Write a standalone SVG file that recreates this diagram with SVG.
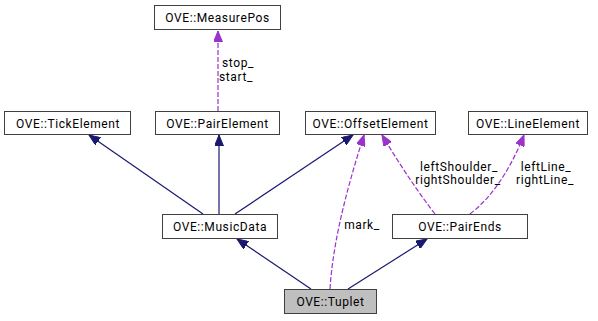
<svg xmlns="http://www.w3.org/2000/svg" width="598" height="321" viewBox="0 0 598 321">
  <style>
    .box { fill: #ffffff; stroke: #404040; stroke-width: 1; }
    .cur { fill: #bfbfbf; stroke: #404040; stroke-width: 1; }
    .lbl { font-family: Roboto, "Liberation Sans", sans-serif; font-size: 12px; letter-spacing: 0.6px; fill: #000000; text-anchor: middle; }
    .inh { fill: none; stroke: #191970; stroke-width: 1.2; }
    .use { fill: none; stroke: #9a32cd; stroke-width: 1.2; stroke-dasharray: 5,2; }
  </style>
  <defs>
    <marker id="ahNavy" markerWidth="12" markerHeight="9" refX="11" refY="4.5" orient="auto" markerUnits="userSpaceOnUse">
      <path d="M0,0 L11,4.5 L0,9 z" fill="#191970" stroke="#191970" stroke-width="1"/>
    </marker>
    <marker id="ahPurple" markerWidth="12" markerHeight="9" refX="11" refY="4.5" orient="auto" markerUnits="userSpaceOnUse">
      <path d="M0,0 L11,4.5 L0,9 z" fill="#9a32cd" stroke="#9a32cd" stroke-width="1"/>
    </marker>
  </defs>

  <!-- connectors -->
  <g id="edges">
    <!-- inheritance -->
    <path class="inh" d="M203,214 L89,135" marker-end="url(#ahNavy)"/>
    <path class="inh" d="M219,214 L219,135" marker-end="url(#ahNavy)"/>
    <path class="inh" d="M235,214 L353,135" marker-end="url(#ahNavy)"/>
    <path class="inh" d="M311,289 L237,239" marker-end="url(#ahNavy)"/>
    <path class="inh" d="M348,289 L427,239" marker-end="url(#ahNavy)"/>
    <!-- usage -->
    <path class="use" d="M218,111 L218,31" marker-end="url(#ahPurple)"/>
    <path class="use" d="M330,289 C333,240 348,185 364,135" marker-end="url(#ahPurple)"/>
    <path class="use" d="M435,214 C415,188 397,160 382,135" marker-end="url(#ahPurple)"/>
    <path class="use" d="M470,214 C495,195 513,163 524,135" marker-end="url(#ahPurple)"/>
    <text class="lbl" x="238" y="67">stop_</text>
    <text class="lbl" x="236" y="81">start_</text>
    <text class="lbl" x="362" y="229">mark_</text>
    <text class="lbl" x="459" y="171">leftShoulder_</text>
    <text class="lbl" x="458" y="184">rightShoulder_</text>
    <text class="lbl" x="546" y="171">leftLine_</text>
    <text class="lbl" x="545" y="184">rightLine_</text>
  </g>

  <g id="MeasurePos">
    <rect class="box" x="154.5" y="5.5" width="126" height="24"/>
    <text class="lbl" x="217.5" y="21.5">OVE::MeasurePos</text>
  </g>
  <g id="TickElement">
    <rect class="box" x="4.5" y="111.5" width="126" height="23"/>
    <text class="lbl" x="68" y="127.5">OVE::TickElement</text>
  </g>
  <g id="PairElement">
    <rect class="box" x="155.5" y="111.5" width="124" height="23"/>
    <text class="lbl" x="217.5" y="127.5">OVE::PairElement</text>
  </g>
  <g id="OffsetElement">
    <rect class="box" x="305.5" y="111.5" width="130" height="23"/>
    <text class="lbl" x="370.5" y="127.5">OVE::OffsetElement</text>
  </g>
  <g id="LineElement">
    <rect class="box" x="468.5" y="111.5" width="119" height="23"/>
    <text class="lbl" x="528" y="127.5">OVE::LineElement</text>
  </g>
  <g id="MusicData">
    <rect class="box" x="162.5" y="214.5" width="115" height="24"/>
    <text class="lbl" x="220" y="230.5">OVE::MusicData</text>
  </g>
  <g id="PairEnds">
    <rect class="box" x="392.5" y="214.5" width="135" height="24"/>
    <text class="lbl" x="460" y="230.5">OVE::PairEnds</text>
  </g>
  <g id="Tuplet">
    <rect class="cur" x="284.5" y="289.5" width="92" height="24"/>
    <text class="lbl" x="330.5" y="305.5">OVE::Tuplet</text>
  </g>
</svg>
